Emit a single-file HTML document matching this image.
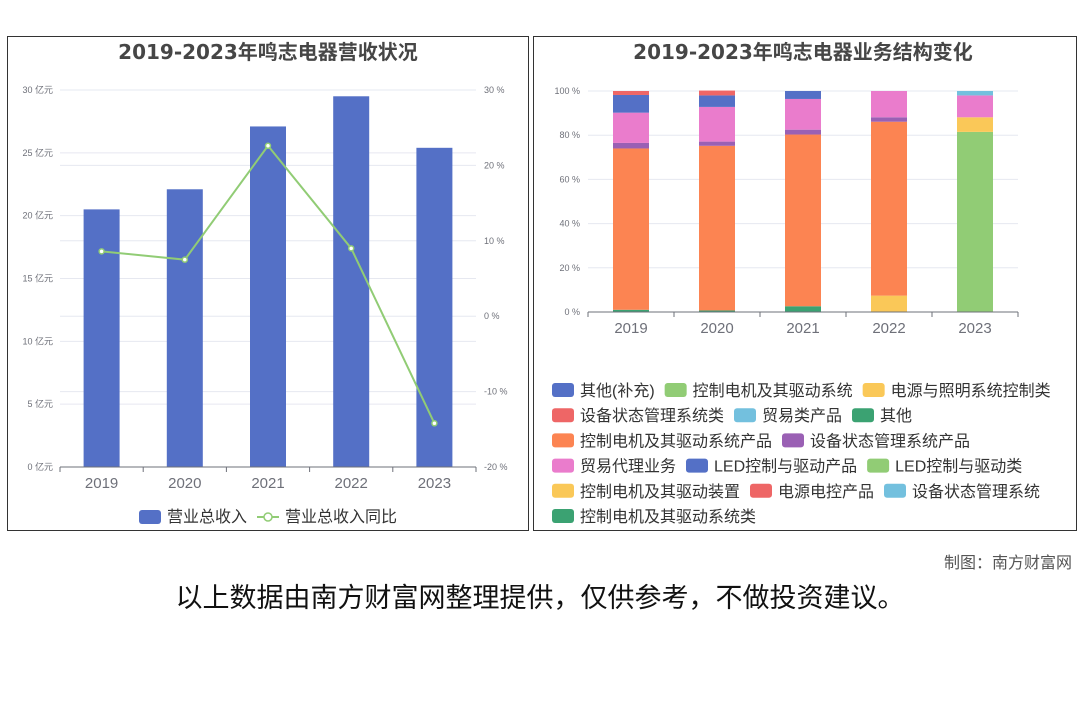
<!DOCTYPE html>
<html><head><meta charset="utf-8"><style>
body{margin:0;background:#fff;width:1080px;height:720px;overflow:hidden;font-family:"Liberation Sans","Noto Sans CJK SC",sans-serif}
svg{position:absolute;left:0;top:0}
text{font-family:"Liberation Sans","Noto Sans CJK SC",sans-serif}
.ttl{font-family:"DejaVu Sans","Noto Sans CJK SC",sans-serif}
</style></head><body>
<svg id="s" width="1080" height="720">
<rect x="7.5" y="36.5" width="521" height="494" fill="#fff" stroke="#333"/>
<rect x="533.5" y="36.5" width="543" height="494" fill="#fff" stroke="#333"/>
<text class="ttl" x="268" y="59" text-anchor="middle" font-size="20" font-weight="bold" fill="#464646">2019-2023年鸣志电器营收状况</text>
<text class="ttl" x="803" y="59" text-anchor="middle" font-size="20" font-weight="bold" fill="#464646">2019-2023年鸣志电器业务结构变化</text>
<g id="L"></g><g id="R"></g>
<text x="1072" y="568" text-anchor="end" font-size="16" fill="#555">制图：南方财富网</text>
<text x="540" y="607" text-anchor="middle" font-size="27" fill="#111">以上数据由南方财富网整理提供，仅供参考，不做投资建议。</text>
</svg>
<script>
const years=["2019","2020","2021","2022","2023"];
const revenue=[20.5,22.1,27.1,29.5,25.4];
const growth=[8.6,7.5,22.6,9.0,-14.2];
const leftTicks=[0,5,10,15,20,25,30];
const rightTicks=[-20,-10,0,10,20,30];
const seriesNames=["其他","控制电机及其驱动系统","电源与照明系统控制类","控制电机及其驱动系统产品","设备状态管理系统产品","贸易代理业务","LED控制与驱动产品","电源电控产品","设备状态管理系统"];
const seriesColors=["#3ba272","#91cc75","#fac858","#fc8452","#9a60b4","#ea7ccc","#5470c6","#ee6666","#73c0de"];
const s0=[1,0.7,2.6,0,0];
const s1=[0,0,0,0,81.5];
const s2=[0,0,0,7.4,6.6];
const s3=[73,74.5,77.7,78.7,0];
const s4=[2.5,1.9,2.2,2,0];
const s5=[13.7,15.7,13.9,11.9,9.9];
const s6=[8,5.2,3.6,0,0];
const s7=[1.8,2.2,0,0,0];
const s8=[0,0,0,0,2];
const seriesValues=[s0,s1,s2,s3,s4,s5,s6,s7,s8];
const pctTicks=[0,20,40,60,80,100];
const legendLabels=["其他(补充)","控制电机及其驱动系统","电源与照明系统控制类","设备状态管理系统类","贸易类产品","其他","控制电机及其驱动系统产品","设备状态管理系统产品","贸易代理业务","LED控制与驱动产品","LED控制与驱动类","控制电机及其驱动装置","电源电控产品","设备状态管理系统","控制电机及其驱动系统类"];
const legendColors=["#5470c6","#91cc75","#fac858","#ee6666","#73c0de","#3ba272","#fc8452","#9a60b4","#ea7ccc","#5470c6","#91cc75","#fac858","#ee6666","#73c0de","#3ba272"];
const legendRows=[[0,1,2],[3,4,5],[6,7],[8,9,10],[11,12,13],[14]];

const NS="http://www.w3.org/2000/svg";
function mk(p,t,a,txt){const e=document.createElementNS(NS,t);for(const k in a)e.setAttribute(k,a[k]);if(txt!=null)e.textContent=txt;p.appendChild(e);return e;}
// Left chart
const L=document.getElementById('L');
const lx0=60,lx1=476,ly0=467,ly1=90;
const yL=v=>ly0-(v/30)*(ly0-ly1);
const yR=v=>ly0-((v+20)/50)*(ly0-ly1);
const bw=(lx1-lx0)/years.length;
const xc=i=>lx0+bw*(i+0.5);
rightTicks.forEach(t=>{const g=mk(L,'line',{x1:lx0,x2:lx1,y1:yR(t),y2:yR(t),stroke:'#e6e8f0'});

const tx=mk(L,'text',{x:484,y:yR(t)+3,'font-size':9,fill:'#6e7079'},t+' %');
});
leftTicks.forEach(t=>{const g=mk(L,'line',{x1:lx0,x2:lx1,y1:yL(t),y2:yL(t),stroke:'#e6e8f0'});

const tx=mk(L,'text',{x:53,y:yL(t)+3,'font-size':9,fill:'#6e7079','text-anchor':'end'},t+' 亿元');
});
revenue.forEach((v,i)=>{const r=mk(L,'rect',{x:xc(i)-18,y:yL(v),width:36,height:ly0-yL(v),fill:'#5470c6'});
});
mk(L,'line',{x1:lx0,x2:lx1,y1:ly0,y2:ly0,stroke:'#6e7079'});
years.forEach((y,i)=>{mk(L,'line',{x1:lx0+bw*i,x2:lx0+bw*i,y1:ly0,y2:ly0+5,stroke:'#6e7079'});
const t=mk(L,'text',{x:xc(i),y:488,'font-size':15,fill:'#6e7079','text-anchor':'middle'},y);
});
mk(L,'line',{x1:lx1,x2:lx1,y1:ly0,y2:ly0+5,stroke:'#6e7079'});
const pl=mk(L,'polyline',{points:growth.map((v,i)=>xc(i)+','+yR(v)).join(' '),fill:'none',stroke:'#91cc75','stroke-width':2});

growth.forEach((v,i)=>{const c=mk(L,'circle',{cx:xc(i),cy:yR(v),r:2.5,fill:'#fff',stroke:'#91cc75','stroke-width':1.5});
});
let lg=mk(L,'rect',{x:139,y:510,width:22,height:14,rx:3,fill:'#5470c6'});

mk(L,'text',{x:167,y:522,'font-size':16,fill:'#333'},'营业总收入');
mk(L,'line',{x1:257,x2:279,y1:517,y2:517,stroke:'#91cc75','stroke-width':2});
lg=mk(L,'circle',{cx:268,cy:517,r:4,fill:'#fff',stroke:'#91cc75','stroke-width':1.5});

mk(L,'text',{x:285,y:522,'font-size':16,fill:'#333'},'营业总收入同比');
// Right chart
const R=document.getElementById('R');
const rx0=588,rx1=1018,ry0=312,ry1=91;
const yP=v=>ry0-(v/100)*(ry0-ry1);
const rbw=(rx1-rx0)/years.length;
const rxc=i=>rx0+rbw*(i+0.5);
pctTicks.forEach(t=>{const g=mk(R,'line',{x1:rx0,x2:rx1,y1:yP(t),y2:yP(t),stroke:'#e6e8f0'});

const tx=mk(R,'text',{x:580,y:yP(t)+3,'font-size':9,fill:'#6e7079','text-anchor':'end'},t+' %');
});
years.forEach((y,i)=>{let acc=0;seriesValues.forEach((arr,k)=>{const v=arr[i];if(v<=0)return;
const r=mk(R,'rect',{x:rxc(i)-18,y:yP(acc+v),width:36,height:yP(acc)-yP(acc+v),fill:seriesColors[k]});
acc+=v;});});
mk(R,'line',{x1:rx0,x2:rx1,y1:ry0,y2:ry0,stroke:'#6e7079'});
years.forEach((y,i)=>{mk(R,'line',{x1:rx0+rbw*i,x2:rx0+rbw*i,y1:ry0,y2:ry0+5,stroke:'#6e7079'});
const t=mk(R,'text',{x:rxc(i),y:333,'font-size':15,fill:'#6e7079','text-anchor':'middle'},y);
});
mk(R,'line',{x1:rx1,x2:rx1,y1:ry0,y2:ry0+5,stroke:'#6e7079'});
const ctx=document.createElement('canvas').getContext('2d');ctx.font='16px "Liberation Sans","Noto Sans CJK SC",sans-serif';
legendRows.forEach((row,ri)=>{let x=552;const y=390+ri*25.2;row.forEach(idx=>{
const r=mk(R,'rect',{x:x,y:y-7,width:22,height:14,rx:3,fill:legendColors[idx]});

mk(R,'text',{x:x+28,y:y+6,'font-size':16,fill:'#333'},legendLabels[idx]);
x+=28+ctx.measureText(legendLabels[idx]).width+10;});});
</script>
</body></html>
